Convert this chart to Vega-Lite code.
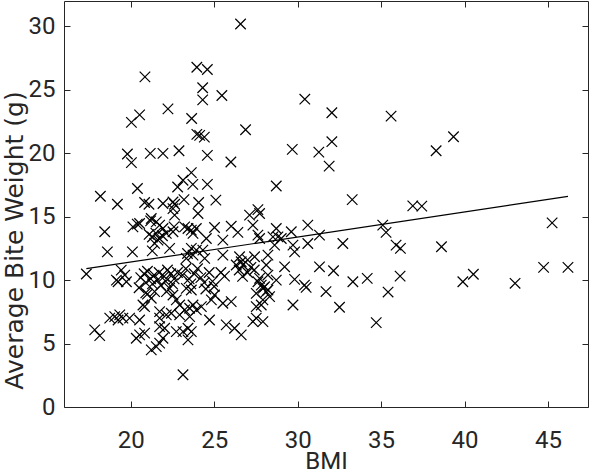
{
  "$schema": "https://vega.github.io/schema/vega-lite/v6.json",
  "width": 524,
  "height": 406,
  "autosize": "none",
  "padding": {"left": 64, "top": 1, "right": 12, "bottom": 67},
  "background": "white",
  "config": {
    "view": {"stroke": "#262626", "strokeWidth": 1},
    "font": "Roboto",
    "axis": {"grid": false, "domain": false, "tickColor": "#262626", "tickSize": -6, "tickWidth": 1, "labelColor": "#262626", "titleColor": "#262626", "labelFont": "Roboto", "titleFont": "Roboto", "labelFontSize": 24, "titleFontSize": 24, "titleFontWeight": "normal"}
  },
  "datasets": {
    "points": [
      {"bmi": 26.58, "bite": 30.19}, {"bmi": 20.85, "bite": 26.02}, {"bmi": 23.96, "bite": 26.78}, {"bmi": 24.59, "bite": 26.6},
      {"bmi": 24.31, "bite": 25.16}, {"bmi": 24.31, "bite": 24.21}, {"bmi": 25.46, "bite": 24.55}, {"bmi": 30.43, "bite": 24.26},
      {"bmi": 32.05, "bite": 23.19}, {"bmi": 20.53, "bite": 23.03}, {"bmi": 20.04, "bite": 22.43}, {"bmi": 22.23, "bite": 23.5},
      {"bmi": 23.65, "bite": 22.74}, {"bmi": 23.96, "bite": 21.49}, {"bmi": 24.13, "bite": 21.41}, {"bmi": 24.41, "bite": 21.27},
      {"bmi": 26.88, "bite": 21.85}, {"bmi": 32.05, "bite": 20.91}, {"bmi": 31.89, "bite": 18.99}, {"bmi": 29.68, "bite": 20.31},
      {"bmi": 31.27, "bite": 20.09}, {"bmi": 19.8, "bite": 19.94}, {"bmi": 20.04, "bite": 19.26}, {"bmi": 21.17, "bite": 19.99},
      {"bmi": 21.93, "bite": 19.99}, {"bmi": 22.89, "bite": 20.2}, {"bmi": 24.59, "bite": 19.83}, {"bmi": 26.0, "bite": 19.31},
      {"bmi": 23.63, "bite": 18.47}, {"bmi": 23.13, "bite": 17.87}, {"bmi": 23.72, "bite": 17.55}, {"bmi": 22.81, "bite": 17.34},
      {"bmi": 24.59, "bite": 17.55}, {"bmi": 28.72, "bite": 17.42}, {"bmi": 20.4, "bite": 17.22}, {"bmi": 18.18, "bite": 16.61},
      {"bmi": 19.2, "bite": 15.98}, {"bmi": 20.83, "bite": 16.12}, {"bmi": 21.09, "bite": 15.98}, {"bmi": 21.93, "bite": 16.04},
      {"bmi": 22.53, "bite": 16.16}, {"bmi": 22.63, "bite": 15.98}, {"bmi": 23.19, "bite": 16.35}, {"bmi": 24.07, "bite": 16.12},
      {"bmi": 25.1, "bite": 16.3}, {"bmi": 27.62, "bite": 15.56}, {"bmi": 35.6, "bite": 22.93}, {"bmi": 39.34, "bite": 21.3},
      {"bmi": 38.3, "bite": 20.2}, {"bmi": 33.27, "bite": 16.35}, {"bmi": 36.9, "bite": 15.85}, {"bmi": 37.44, "bite": 15.83},
      {"bmi": 22.53, "bite": 15.64}, {"bmi": 24.03, "bite": 15.25}, {"bmi": 22.63, "bite": 15.12}, {"bmi": 27.12, "bite": 15.12},
      {"bmi": 27.72, "bite": 15.25}, {"bmi": 35.1, "bite": 14.33}, {"bmi": 35.3, "bite": 13.76}, {"bmi": 32.71, "bite": 12.89},
      {"bmi": 35.9, "bite": 12.76}, {"bmi": 36.16, "bite": 12.5}, {"bmi": 38.62, "bite": 12.63}, {"bmi": 45.25, "bite": 14.51},
      {"bmi": 32.15, "bite": 10.74}, {"bmi": 33.31, "bite": 9.87}, {"bmi": 34.17, "bite": 10.14}, {"bmi": 36.14, "bite": 10.32},
      {"bmi": 35.42, "bite": 9.06}, {"bmi": 32.51, "bite": 7.86}, {"bmi": 34.71, "bite": 6.65}, {"bmi": 39.9, "bite": 9.87},
      {"bmi": 40.53, "bite": 10.46}, {"bmi": 43.03, "bite": 9.75}, {"bmi": 44.74, "bite": 11.0}, {"bmi": 46.2, "bite": 11.0},
      {"bmi": 31.7, "bite": 9.1}, {"bmi": 18.44, "bite": 13.81}, {"bmi": 20.13, "bite": 14.2}, {"bmi": 20.39, "bite": 14.41},
      {"bmi": 20.53, "bite": 14.46}, {"bmi": 21.19, "bite": 14.67}, {"bmi": 21.23, "bite": 14.86}, {"bmi": 21.53, "bite": 14.59},
      {"bmi": 21.73, "bite": 14.33}, {"bmi": 21.93, "bite": 14.07}, {"bmi": 22.13, "bite": 13.68}, {"bmi": 22.53, "bite": 13.81},
      {"bmi": 22.59, "bite": 14.2}, {"bmi": 23.23, "bite": 14.2}, {"bmi": 23.43, "bite": 14.07}, {"bmi": 23.63, "bite": 13.94},
      {"bmi": 23.73, "bite": 13.68}, {"bmi": 23.93, "bite": 14.07}, {"bmi": 24.53, "bite": 13.28}, {"bmi": 25.02, "bite": 14.15},
      {"bmi": 25.52, "bite": 13.15}, {"bmi": 26.02, "bite": 14.25}, {"bmi": 26.42, "bite": 13.76}, {"bmi": 27.32, "bite": 14.33},
      {"bmi": 27.62, "bite": 13.55}, {"bmi": 27.72, "bite": 13.28}, {"bmi": 28.72, "bite": 14.07}, {"bmi": 28.52, "bite": 13.41},
      {"bmi": 28.82, "bite": 13.41}, {"bmi": 29.02, "bite": 13.28}, {"bmi": 28.62, "bite": 12.76}, {"bmi": 29.62, "bite": 13.81},
      {"bmi": 29.72, "bite": 12.76}, {"bmi": 29.82, "bite": 12.23}, {"bmi": 30.61, "bite": 14.33}, {"bmi": 30.61, "bite": 12.89},
      {"bmi": 31.31, "bite": 13.55}, {"bmi": 21.1, "bite": 13.6}, {"bmi": 21.3, "bite": 13.4}, {"bmi": 21.5, "bite": 13.7},
      {"bmi": 21.7, "bite": 13.3}, {"bmi": 21.9, "bite": 13.5}, {"bmi": 21.43, "bite": 12.9}, {"bmi": 21.63, "bite": 13.15},
      {"bmi": 22.33, "bite": 12.5}, {"bmi": 18.6, "bite": 12.23}, {"bmi": 20.1, "bite": 12.23}, {"bmi": 21.29, "bite": 12.31},
      {"bmi": 23.4, "bite": 12.1}, {"bmi": 23.73, "bite": 11.97}, {"bmi": 23.33, "bite": 11.71}, {"bmi": 23.63, "bite": 12.5},
      {"bmi": 23.93, "bite": 12.37}, {"bmi": 24.32, "bite": 12.37}, {"bmi": 24.43, "bite": 11.71}, {"bmi": 25.52, "bite": 11.97},
      {"bmi": 26.52, "bite": 11.84}, {"bmi": 26.62, "bite": 11.45}, {"bmi": 26.72, "bite": 11.19}, {"bmi": 26.32, "bite": 11.19},
      {"bmi": 27.42, "bite": 11.84}, {"bmi": 28.22, "bite": 11.97}, {"bmi": 28.12, "bite": 11.19}, {"bmi": 29.22, "bite": 11.05},
      {"bmi": 31.31, "bite": 11.05}, {"bmi": 27.0, "bite": 11.6}, {"bmi": 27.2, "bite": 11.0}, {"bmi": 27.4, "bite": 10.8},
      {"bmi": 17.34, "bite": 10.48}, {"bmi": 19.43, "bite": 10.79}, {"bmi": 19.24, "bite": 9.87}, {"bmi": 19.74, "bite": 9.87},
      {"bmi": 19.64, "bite": 10.4}, {"bmi": 19.14, "bite": 10.0}, {"bmi": 20.6, "bite": 10.2}, {"bmi": 20.8, "bite": 10.5},
      {"bmi": 20.9, "bite": 9.8}, {"bmi": 21.0, "bite": 10.7}, {"bmi": 21.2, "bite": 10.1}, {"bmi": 21.3, "bite": 9.7},
      {"bmi": 21.4, "bite": 10.4}, {"bmi": 21.6, "bite": 10.0}, {"bmi": 21.7, "bite": 10.6}, {"bmi": 21.8, "bite": 9.6},
      {"bmi": 22.0, "bite": 10.3}, {"bmi": 22.2, "bite": 10.8}, {"bmi": 22.1, "bite": 9.9}, {"bmi": 22.4, "bite": 10.5},
      {"bmi": 22.6, "bite": 10.1}, {"bmi": 22.8, "bite": 10.6}, {"bmi": 23.1, "bite": 10.4}, {"bmi": 23.3, "bite": 10.9},
      {"bmi": 23.5, "bite": 10.1}, {"bmi": 23.6, "bite": 9.7}, {"bmi": 23.8, "bite": 10.5}, {"bmi": 24.0, "bite": 10.9},
      {"bmi": 24.2, "bite": 10.2}, {"bmi": 24.4, "bite": 9.8}, {"bmi": 24.7, "bite": 10.6}, {"bmi": 24.9, "bite": 9.9},
      {"bmi": 25.62, "bite": 10.32}, {"bmi": 26.5, "bite": 10.8}, {"bmi": 26.7, "bite": 10.3}, {"bmi": 27.0, "bite": 10.6},
      {"bmi": 27.72, "bite": 10.14}, {"bmi": 28.22, "bite": 10.4}, {"bmi": 28.72, "bite": 10.0}, {"bmi": 29.82, "bite": 10.06},
      {"bmi": 27.62, "bite": 9.87}, {"bmi": 27.82, "bite": 9.61}, {"bmi": 30.41, "bite": 9.61}, {"bmi": 30.51, "bite": 9.43},
      {"bmi": 28.02, "bite": 9.48}, {"bmi": 28.22, "bite": 9.22}, {"bmi": 27.52, "bite": 8.96}, {"bmi": 27.92, "bite": 9.35},
      {"bmi": 28.12, "bite": 9.09}, {"bmi": 28.32, "bite": 8.7}, {"bmi": 27.92, "bite": 8.44}, {"bmi": 27.52, "bite": 7.91},
      {"bmi": 27.82, "bite": 8.04}, {"bmi": 27.32, "bite": 6.73}, {"bmi": 27.52, "bite": 7.0}, {"bmi": 27.92, "bite": 6.73},
      {"bmi": 29.72, "bite": 8.04}, {"bmi": 22.14, "bite": 9.09}, {"bmi": 22.33, "bite": 9.35}, {"bmi": 22.53, "bite": 8.83},
      {"bmi": 22.73, "bite": 8.44}, {"bmi": 22.93, "bite": 8.04}, {"bmi": 23.23, "bite": 7.65}, {"bmi": 23.53, "bite": 7.78},
      {"bmi": 23.73, "bite": 8.04}, {"bmi": 23.93, "bite": 7.65}, {"bmi": 24.23, "bite": 7.91}, {"bmi": 23.63, "bite": 9.22},
      {"bmi": 23.33, "bite": 9.35}, {"bmi": 24.83, "bite": 8.44}, {"bmi": 25.02, "bite": 8.83}, {"bmi": 25.52, "bite": 8.18},
      {"bmi": 26.02, "bite": 8.3}, {"bmi": 24.72, "bite": 6.86}, {"bmi": 25.72, "bite": 6.47}, {"bmi": 26.22, "bite": 6.21},
      {"bmi": 26.62, "bite": 5.68}, {"bmi": 22.03, "bite": 6.21}, {"bmi": 21.93, "bite": 5.42}, {"bmi": 22.73, "bite": 5.94},
      {"bmi": 23.13, "bite": 5.94}, {"bmi": 23.43, "bite": 6.21}, {"bmi": 23.63, "bite": 5.94}, {"bmi": 23.43, "bite": 5.29},
      {"bmi": 23.13, "bite": 2.54}, {"bmi": 20.73, "bite": 8.04}, {"bmi": 21.23, "bite": 8.57}, {"bmi": 21.43, "bite": 9.09},
      {"bmi": 21.73, "bite": 7.52}, {"bmi": 21.73, "bite": 7.0}, {"bmi": 21.73, "bite": 6.34}, {"bmi": 18.74, "bite": 7.0},
      {"bmi": 19.04, "bite": 7.12}, {"bmi": 19.24, "bite": 6.86}, {"bmi": 19.34, "bite": 7.26}, {"bmi": 19.53, "bite": 7.0},
      {"bmi": 19.93, "bite": 7.0}, {"bmi": 17.84, "bite": 6.08}, {"bmi": 18.14, "bite": 5.63}, {"bmi": 20.33, "bite": 5.42},
      {"bmi": 20.53, "bite": 5.68}, {"bmi": 20.83, "bite": 5.82}, {"bmi": 21.23, "bite": 4.5}, {"bmi": 21.53, "bite": 4.76},
      {"bmi": 21.73, "bite": 5.03}, {"bmi": 20.53, "bite": 6.86}, {"bmi": 20.83, "bite": 7.91}, {"bmi": 22.13, "bite": 7.26},
      {"bmi": 22.43, "bite": 7.39}, {"bmi": 22.93, "bite": 7.26}, {"bmi": 23.53, "bite": 7.12}, {"bmi": 20.9, "bite": 9.0},
      {"bmi": 20.5, "bite": 9.4}, {"bmi": 21.0, "bite": 8.9}, {"bmi": 22.5, "bite": 9.7}, {"bmi": 24.5, "bite": 9.3},
      {"bmi": 25.0, "bite": 9.5}, {"bmi": 25.4, "bite": 10.6}
    ],
    "fit": [{"bmi": 17.34, "bite": 10.9}, {"bmi": 46.2, "bite": 16.6}]
  },
  "layer": [
    {
      "data": {"name": "points"},
      "mark": {"type": "point", "shape": "M-1,-1L1,1M-1,1L1,-1", "size": 110, "filled": false, "stroke": "black", "strokeWidth": 1.2, "opacity": 1},
      "encoding": {
        "x": {"field": "bmi", "type": "quantitative", "scale": {"domain": [16, 47.4], "nice": false, "zero": false},
              "axis": {"orient": "bottom", "values": [20, 25, 30, 35, 40, 45], "title": "BMI", "labelPadding": 27, "titleY": 61, "titleBaseline": "alphabetic"}},
        "y": {"field": "bite", "type": "quantitative", "scale": {"domain": [0, 32], "nice": false, "zero": false},
              "axis": {"orient": "left", "values": [0, 5, 10, 15, 20, 25, 30], "title": "Average Bite Weight (g)", "labelPadding": 15, "titleFont": "DejaVu Sans", "titleFontSize": 25, "titleX": -42, "titleY": 239, "titleAlign": "center", "titleBaseline": "alphabetic", "titleAngle": 270}}
      }
    },
    {
      "data": {"name": "fit"},
      "mark": {"type": "line", "color": "black", "strokeWidth": 1.2},
      "encoding": {
        "x": {"field": "bmi", "type": "quantitative", "axis": {"orient": "top", "values": [20, 25, 30, 35, 40, 45], "labels": false, "title": null}},
        "y": {"field": "bite", "type": "quantitative", "axis": {"orient": "right", "values": [0, 5, 10, 15, 20, 25, 30], "labels": false, "title": null}}
      }
    }
  ],
  "resolve": {"axis": {"x": "independent", "y": "independent"}}
}
